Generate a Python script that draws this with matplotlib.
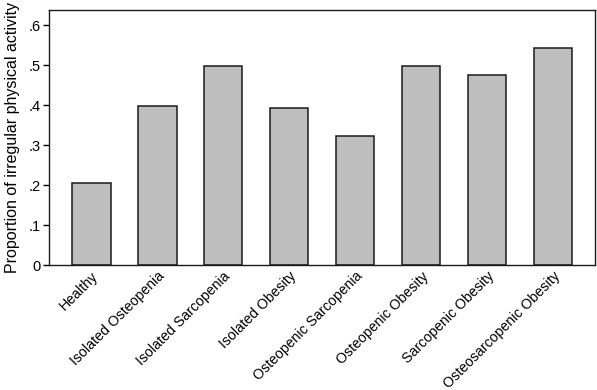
import matplotlib
matplotlib.use("Agg")
import matplotlib.pyplot as plt
from matplotlib.ticker import FuncFormatter

categories = ["Healthy", "Isolated Osteopenia", "Isolated Sarcopenia", "Isolated Obesity",
              "Osteopenic Sarcopenia", "Osteopenic Obesity", "Sarcopenic Obesity",
              "Osteosarcopenic Obesity"]
values = [0.204, 0.398, 0.499, 0.392, 0.322, 0.499, 0.475, 0.542]
yticks = [0, 0.1, 0.2, 0.3, 0.4, 0.5, 0.6]

plt.rcParams['font.family'] = ['Liberation Sans', 'DejaVu Sans']

fig = plt.figure(figsize=(5.97, 3.9), dpi=100)
ax = fig.add_axes([0.082, 0.3205, 0.9146, 0.6535])
x = list(range(len(categories)))
ax.bar(x, values, width=0.58, color='#bebebe', edgecolor='#1a1a1a', linewidth=1.1)
ax.set_xlim(-0.645, len(categories) - 1 + 0.635)
ax.set_ylim(0, 0.6375)
ax.set_yticks(yticks)
ax.yaxis.set_major_formatter(FuncFormatter(lambda v, p: "0" if v == 0 else ("%.1f" % v).lstrip("0")))
ax.set_xticks(x)
ax.set_xticklabels(categories, rotation=45, ha='right', rotation_mode='anchor', fontsize=10.2)
ax.tick_params(axis='x', length=0, pad=3)
ax.tick_params(axis='y', length=4, width=1.0, labelsize=10.5, pad=2)
ax.set_ylabel("Proportion of irregular physical activity", fontsize=11.5, labelpad=6)
for s in ax.spines.values():
    s.set_linewidth(1.0)
    s.set_color('#1a1a1a')
fig.savefig("out.png", dpi=100)
